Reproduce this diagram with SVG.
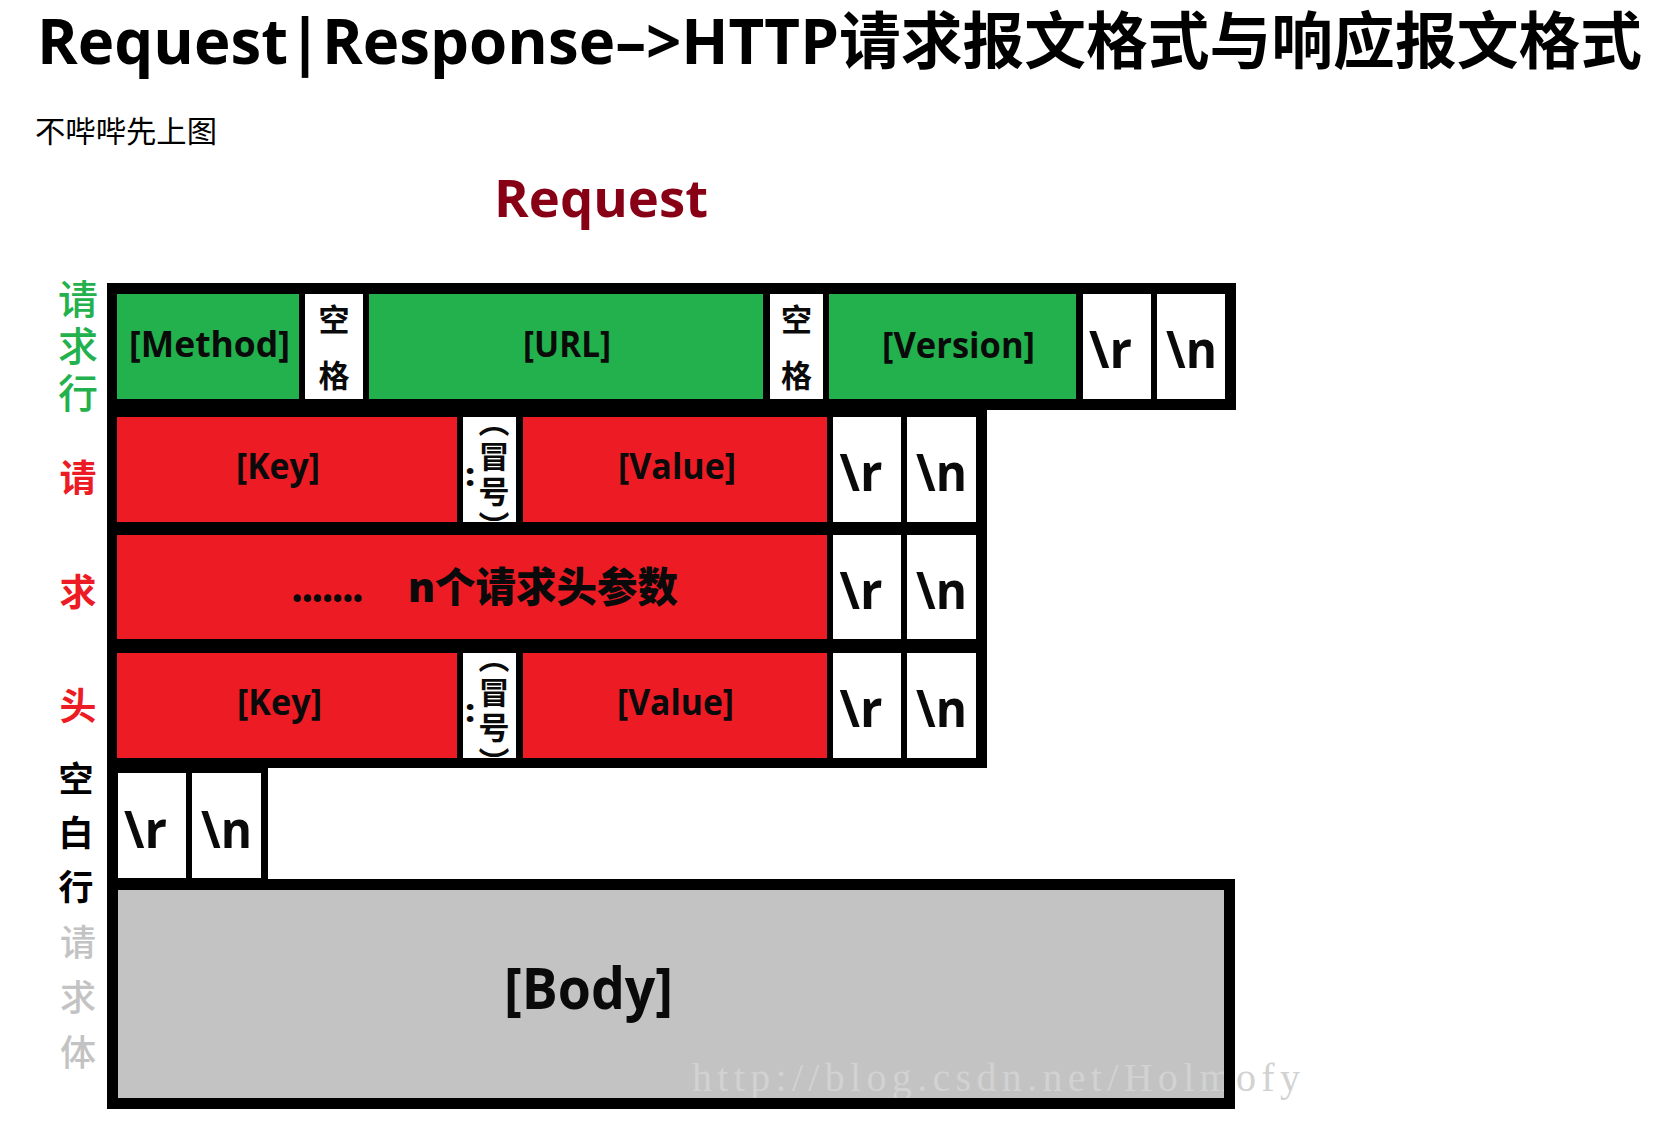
<svg xmlns="http://www.w3.org/2000/svg" width="1674" height="1146" viewBox="0 0 1674 1146">
<style>
  .bg { fill: #ffffff; }
  .frame { fill: #000000; }
  .g { fill: #22B14C; }
  .r { fill: #ED1C24; }
  .w { fill: #ffffff; }
  .gy { fill: #C3C3C3; }
  .t { font-family: "Open Sans", "Noto Sans CJK SC", sans-serif; font-weight: 700; fill: #0a0a0a; text-anchor: middle; }
  .fld { font-size: 35px; }
  .crlf { font-size: 52px; }
  .cj { font-family: "Noto Sans CJK SC", sans-serif; font-weight: 700; fill: #0a0a0a; text-anchor: middle; }
  .sp { font-size: 31px; }
  .vt { font-family: "Noto Sans CJK SC", sans-serif; font-weight: 700; fill: #0a0a0a; font-size: 31px; writing-mode: vertical-rl; letter-spacing: 4px; }
  .colon { font-family: "Open Sans", sans-serif; font-weight: 800; font-size: 32px; fill: #0a0a0a; text-anchor: middle; }
  .side { font-family: "Noto Sans CJK SC", sans-serif; writing-mode: vertical-rl; }
</style>
<rect class="bg" x="0" y="0" width="1674" height="1146"/>

<g id="heading">
  <text x="37" y="64" font-family="'Open Sans', 'Noto Sans CJK SC', sans-serif" font-weight="700" font-size="62" fill="#000" textLength="1605" lengthAdjust="spacingAndGlyphs">Request|Response–&gt;HTTP请求报文格式与响应报文格式</text>
  <text x="35" y="142" font-family="'Noto Sans CJK SC', sans-serif" font-size="30" fill="#000" textLength="182" lengthAdjust="spacingAndGlyphs">不哔哔先上图</text>
  <text x="494" y="217" font-family="'Open Sans', sans-serif" font-weight="700" font-size="52" fill="#880015" textLength="214" lengthAdjust="spacingAndGlyphs">Request</text>
</g>

<g id="side-labels">
  <text id="label-request-line" class="side" x="78" y="279" fill="#22B14C" font-size="40" font-weight="500" letter-spacing="7">请求行</text>
  <text id="label-headers" class="side" x="78" y="459" fill="#ED1C24" font-size="37" font-weight="700" letter-spacing="77">请求头</text>
  <text id="label-blank-line" class="side" x="76" y="761" fill="#000" font-size="35" font-weight="700" letter-spacing="19">空白行</text>
  <text id="label-body" class="side" x="78" y="924" fill="#C3C3C3" font-size="36" font-weight="500" letter-spacing="19">请求体</text>
</g>

<g id="frames">
  <rect class="frame" x="107" y="283" width="1129" height="127"/>
  <rect class="frame" x="107" y="399" width="880" height="369"/>
  <rect class="frame" x="107" y="757" width="161" height="133"/>
</g>

<g id="request-line">
  <g id="method"><rect class="g" x="117" y="294" width="182" height="105"/><text class="t fld" x="209.5" y="357" textLength="161" lengthAdjust="spacingAndGlyphs">[Method]</text></g>
  <g id="space-1"><rect class="w" x="305" y="294" width="58" height="105"/><text class="cj sp"><tspan x="334" y="331">空</tspan><tspan x="334" y="387">格</tspan></text></g>
  <g id="url"><rect class="g" x="369" y="294" width="394" height="105"/><text class="t fld" x="567" y="357" textLength="88" lengthAdjust="spacingAndGlyphs">[URL]</text></g>
  <g id="space-2"><rect class="w" x="770" y="294" width="53" height="105"/><text class="cj sp"><tspan x="796.5" y="331">空</tspan><tspan x="796.5" y="387">格</tspan></text></g>
  <g id="version"><rect class="g" x="829" y="294" width="247" height="105"/><text class="t fld" x="958.5" y="358" textLength="153" lengthAdjust="spacingAndGlyphs">[Version]</text></g>
  <g id="cr-1"><rect class="w" x="1083" y="294" width="68" height="105"/><text class="t crlf" x="1110.5" y="368" textLength="43" lengthAdjust="spacingAndGlyphs">\r</text></g>
  <g id="lf-1"><rect class="w" x="1157" y="294" width="68" height="105"/><text class="t crlf" x="1191.5" y="368" textLength="51" lengthAdjust="spacingAndGlyphs">\n</text></g>
</g>

<g id="header-1">
  <g id="key-1"><rect class="r" x="117" y="417" width="340" height="105"/><text class="t fld" x="278" y="479" textLength="84" lengthAdjust="spacingAndGlyphs">[Key]</text></g>
  <g id="colon-1"><rect class="w" x="463" y="417" width="53" height="105"/><text class="colon" x="470" y="486">:</text><text class="vt" x="494" y="406">（冒号）</text></g>
  <g id="value-1"><rect class="r" x="523" y="417" width="304" height="105"/><text class="t fld" x="677" y="479" textLength="118" lengthAdjust="spacingAndGlyphs">[Value]</text></g>
  <g id="cr-2"><rect class="w" x="833" y="417" width="68" height="105"/><text class="t crlf" x="861" y="491" textLength="43" lengthAdjust="spacingAndGlyphs">\r</text></g>
  <g id="lf-2"><rect class="w" x="907" y="417" width="69" height="105"/><text class="t crlf" x="941.5" y="491" textLength="51" lengthAdjust="spacingAndGlyphs">\n</text></g>
</g>

<g id="header-n">
  <g id="params"><rect class="r" x="117" y="535" width="710" height="104"/>
    <text font-family="'Open Sans', 'Noto Sans CJK SC', sans-serif" font-weight="800" font-size="41" fill="#0a0a0a"><tspan x="292" y="602" textLength="71" lengthAdjust="spacingAndGlyphs">.......</tspan><tspan x="408" y="602" textLength="270" lengthAdjust="spacingAndGlyphs">n个请求头参数</tspan></text>
  </g>
  <g id="cr-3"><rect class="w" x="833" y="535" width="68" height="104"/><text class="t crlf" x="861" y="609" textLength="43" lengthAdjust="spacingAndGlyphs">\r</text></g>
  <g id="lf-3"><rect class="w" x="907" y="535" width="69" height="104"/><text class="t crlf" x="941.5" y="609" textLength="51" lengthAdjust="spacingAndGlyphs">\n</text></g>
</g>

<g id="header-2">
  <g id="key-2"><rect class="r" x="117" y="653" width="340" height="105"/><text class="t fld" x="279.5" y="715" textLength="85" lengthAdjust="spacingAndGlyphs">[Key]</text></g>
  <g id="colon-2"><rect class="w" x="463" y="653" width="53" height="105"/><text class="colon" x="470" y="722">:</text><text class="vt" x="494" y="642">（冒号）</text></g>
  <g id="value-2"><rect class="r" x="523" y="653" width="304" height="105"/><text class="t fld" x="675.5" y="715" textLength="117" lengthAdjust="spacingAndGlyphs">[Value]</text></g>
  <g id="cr-4"><rect class="w" x="833" y="653" width="68" height="105"/><text class="t crlf" x="861" y="727" textLength="43" lengthAdjust="spacingAndGlyphs">\r</text></g>
  <g id="lf-4"><rect class="w" x="907" y="653" width="69" height="105"/><text class="t crlf" x="941.5" y="727" textLength="51" lengthAdjust="spacingAndGlyphs">\n</text></g>
</g>

<g id="blank-line">
  <g id="cr-5"><rect class="w" x="118" y="773" width="68" height="105"/><text class="t crlf" x="145.5" y="848" textLength="43" lengthAdjust="spacingAndGlyphs">\r</text></g>
  <g id="lf-5"><rect class="w" x="192" y="773" width="69" height="105"/><text class="t crlf" x="226.5" y="848" textLength="51" lengthAdjust="spacingAndGlyphs">\n</text></g>
</g>

<g id="body">
  <rect class="gy" x="112" y="884" width="1118" height="219"/>
  <text class="t" x="588.5" y="1009" font-size="58" textLength="169" lengthAdjust="spacingAndGlyphs">[Body]</text>
  <text x="692" y="1091" font-family="'Liberation Serif', serif" font-size="40" fill="#d2d2d2" textLength="608" lengthAdjust="spacing">http://blog.csdn.net/Holmofy</text>
  <rect x="112.5" y="884.5" width="1117" height="219" fill="none" stroke="#000" stroke-width="11"/>
</g>

<g id="connectors"/>
</svg>
